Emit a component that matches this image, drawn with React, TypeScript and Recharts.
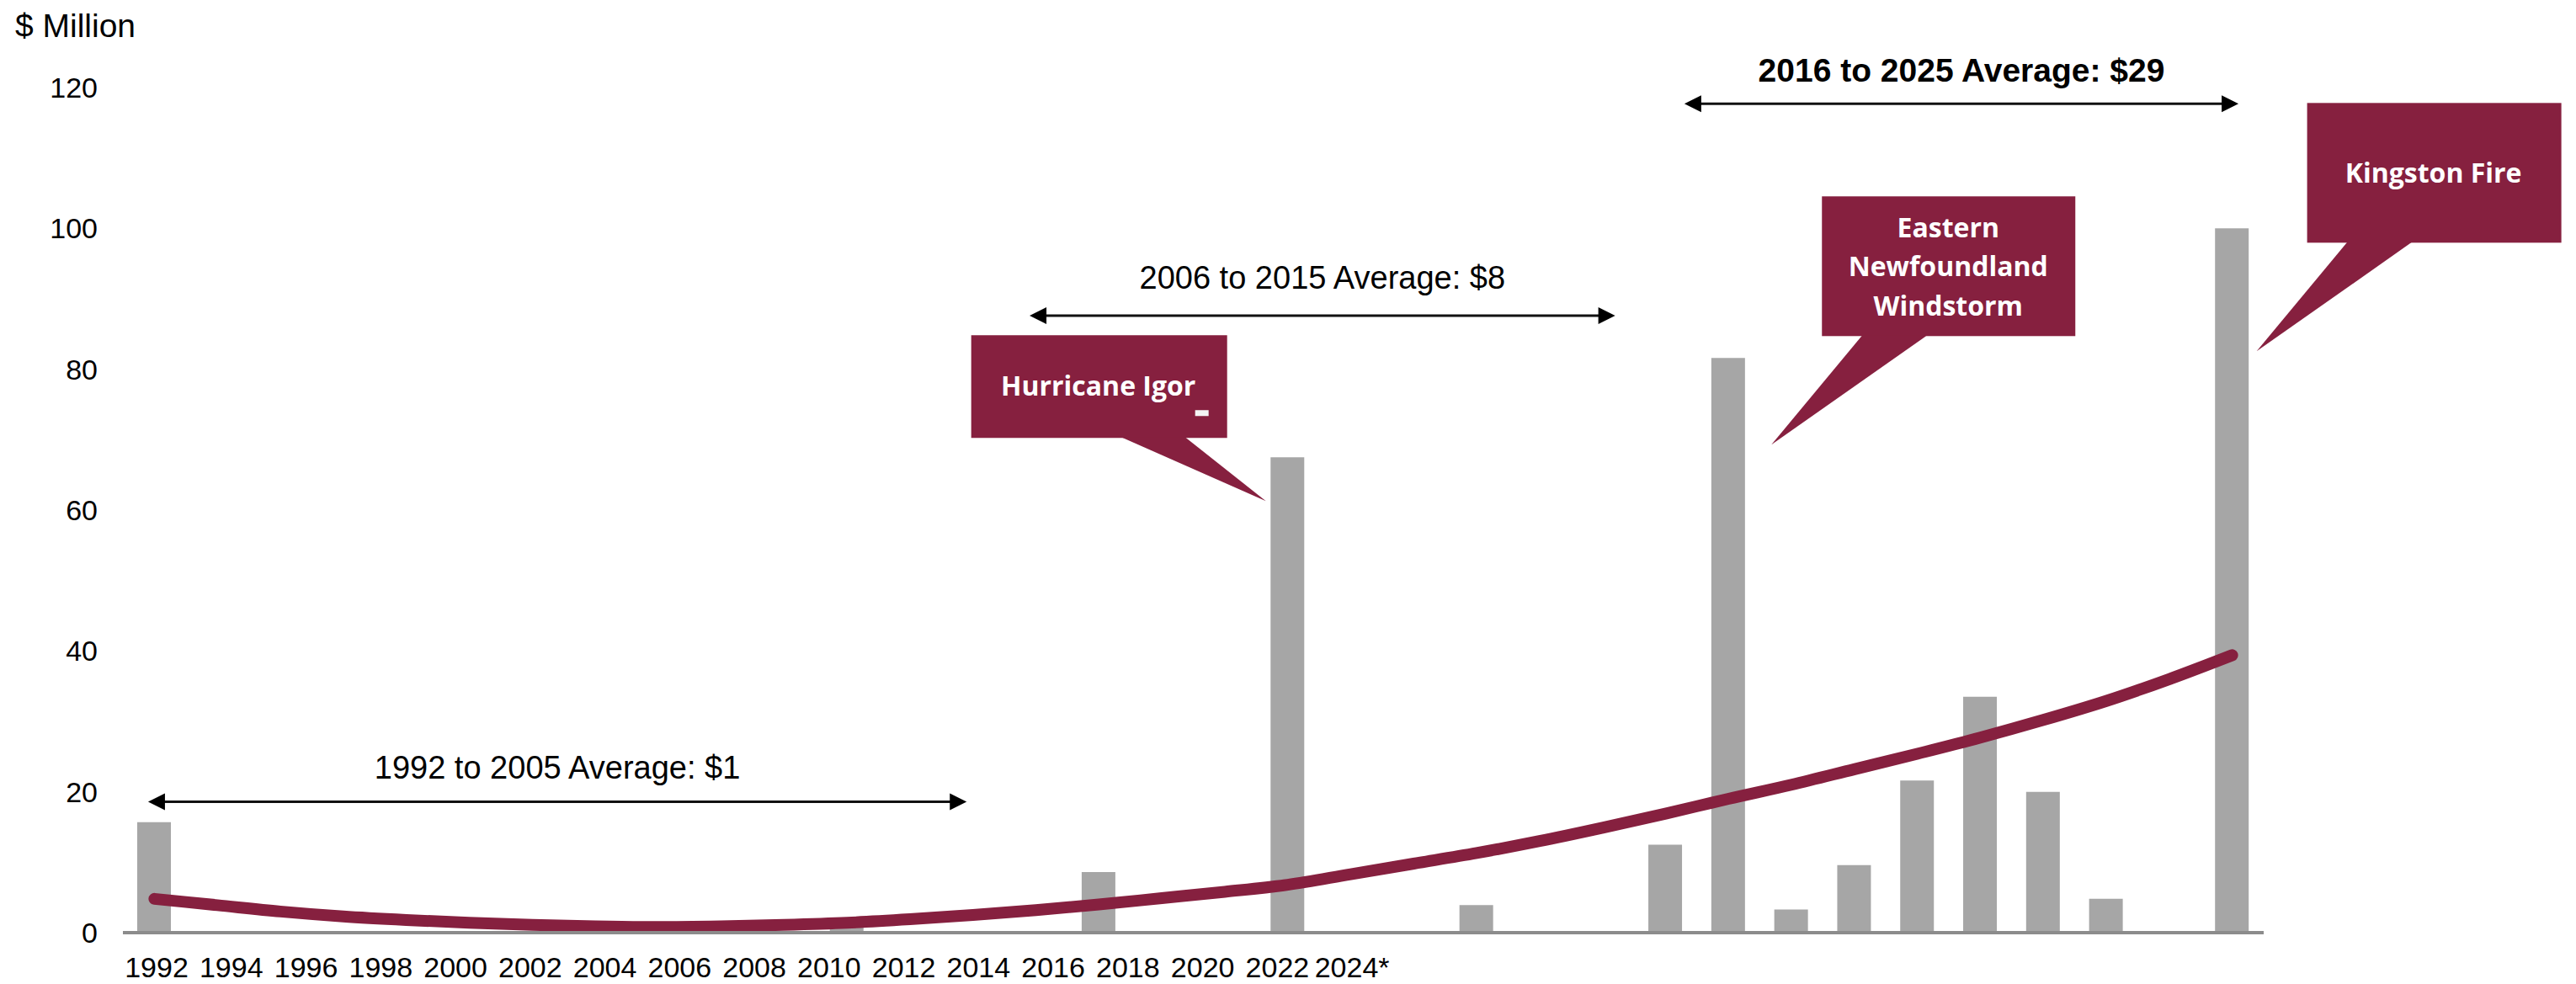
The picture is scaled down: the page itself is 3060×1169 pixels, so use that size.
import React from "react";
import { Bar, ComposedChart, Customized, Line, ReferenceDot, ReferenceLine, XAxis, YAxis } from "recharts";

const years = [
  1992, 1993, 1994, 1995, 1996, 1997, 1998, 1999, 2000, 2001, 2002, 2003, 2004, 2005, 2006, 2007, 2008,
  2009, 2010, 2011, 2012, 2013, 2014, 2015, 2016, 2017, 2018, 2019, 2020, 2021, 2022, 2023, 2024, 2025,
];

// insured losses, $ million
const losses = [
  15.7, 0, 0, 0, 0, 0, 0, 0, 0, 0, 0, 1.2, 0, 0, 0, 8.6, 0,
  0, 67.5, 0, 0, 3.9, 0, 0, 12.5, 81.6, 3.3, 9.6, 21.6, 33.5, 20.0, 4.8, 0, 100,
];

// trend line
const trend = [
  4.8, 3.9, 3.0, 2.3, 1.8, 1.4, 1.1, 0.9, 0.8, 0.9, 1.1, 1.4, 1.9, 2.5, 3.2, 4.0, 4.9,
  5.8, 6.8, 8.3, 9.8, 11.3, 13.0, 14.9, 16.9, 19.0, 21.0, 23.2, 25.4, 27.7, 30.2, 32.9, 36.0, 39.4,
];

const tickLabels = [
  "1992", "1994", "1996", "1998", "2000", "2002", "2004", "2006", "2008",
  "2010", "2012", "2014", "2016", "2018", "2020", "2022", "2024*",
];
const yTicks = [0, 20, 40, 60, 80, 100, 120];

const spanText = ["1992 to 2005 Average: $1", "2006 to 2015 Average: $8", "2016 to 2025 Average: $29"];
const spanStart = [1991.9, 2005.9, 2016.3];
const spanEnd = [2004.9, 2015.2, 2025.1];
const spanLevel = [18.6, 87.6, 117.7];

const eventYears = [2010, 2017, 2025];
const eventNames = [["Hurricane Igor"], ["Eastern", "Newfoundland", "Windstorm"], ["Kingston Fire"]];

const MAROON = "#86203f";
const BAR_GREY = "#a6a6a6";
const AXIS_GREY = "#8c8c8c";
const ARIAL = "'Liberation Sans', Arial, sans-serif";

const chartData = years.map((year, i) => ({ year, loss: losses[i], trend: trend[i] }));

// callout geometry relative to the bar top it points at
const calloutLayout = [
  { box: [-376, -145, 304, 122], tail: [-198, -122, -26, 52], textX: -225, baselines: [-73], dash: [-110, -56, 16, 7] },
  { box: [111, -192, 301, 166], tail: [159, 236, 51, 103], textX: 261, baselines: [-143, -97, -50] },
  { box: [89, -149, 302, 166], tail: [137, 214, 29, 146], textX: 239, baselines: [-54] },
];
const spanLabelOffset = [27, 32, 26];

function calloutShape(idx: number) {
  return (props: any) => {
    const { cx, cy } = props;
    const l = calloutLayout[idx];
    const [bx, by, bw, bh] = l.box;
    const [t0, t1, tx, ty] = l.tail;
    const baseY = cy + by + bh - 1;
    return (
      <g>
        <rect x={cx + bx} y={cy + by} width={bw} height={bh} fill={MAROON} />
        <polygon points={`${cx + t0},${baseY} ${cx + t1},${baseY} ${cx + tx},${cy + ty}`} fill={MAROON} />
        {l.dash && <rect x={cx + l.dash[0]} y={cy + l.dash[1]} width={l.dash[2]} height={l.dash[3]} fill="#f4f4f4" />}
        <text textAnchor="middle" fill="#ffffff" fontFamily="'Open Sans', sans-serif" fontWeight={700} fontSize={32}>
          {eventNames[idx].map((line, k) => (
            <tspan key={k} x={cx + l.textX} y={cy + l.baselines[k]}>
              {line}
            </tspan>
          ))}
        </text>
      </g>
    );
  };
}

function ArrowShape(props: any) {
  const { x1, y1, x2, y2 } = props;
  const head = 20;
  const half = 10;
  return (
    <g>
      <line x1={x1 + head - 2} y1={y1} x2={x2 - head + 2} y2={y2} stroke="#111" strokeWidth={3} />
      <polygon points={`${x1},${y1} ${x1 + head},${y1 - half} ${x1 + head},${y1 + half}`} fill="#000" />
      <polygon points={`${x2},${y2} ${x2 - head},${y2 - half} ${x2 - head},${y2 + half}`} fill="#000" />
    </g>
  );
}

export default function App() {
  return (
    <div style={{ width: 3060, height: 1169, background: "#fff" }}>
      <style>{"body{margin:0}"}</style>
      <ComposedChart width={3060} height={1169} data={chartData} margin={{ top: 104, right: 371, bottom: 0, left: 0 }}>
        <XAxis
          xAxisId="bars"
          dataKey="year"
          type="category"
          height={2}
          tick={false}
          tickLine={false}
          axisLine={{ stroke: AXIS_GREY, strokeWidth: 4 }}
        />
        {/* the year labels run on their own spacing, narrower than the bars */}
        <XAxis
          xAxisId="labels"
          type="number"
          dataKey={() => 8}
          domain={[-0.451, 28.2]}
          allowDataOverflow
          ticks={tickLabels.map((_, i) => i)}
          interval={0}
          tickFormatter={(v: number) => tickLabels[v] ?? ""}
          axisLine={false}
          tickLine={false}
          tickSize={0}
          tickMargin={27}
          height={59}
          tick={{ fill: "#000", fontSize: 34, fontFamily: ARIAL }}
        />
        <XAxis xAxisId="yr" type="number" dataKey="year" domain={[1991.5, 2025.5]} allowDataOverflow hide />
        <YAxis
          width={146}
          domain={[0, 120]}
          ticks={yTicks}
          interval={0}
          axisLine={false}
          tickLine={false}
          tickSize={0}
          tickMargin={30}
          tick={{ fill: "#000", fontSize: 34, fontFamily: ARIAL }}
        />
        <Bar xAxisId="bars" dataKey="loss" fill={BAR_GREY} barSize={40} isAnimationActive={false} />
        <Line
          xAxisId="bars"
          type="monotone"
          dataKey="trend"
          stroke={MAROON}
          strokeWidth={14}
          strokeLinecap="round"
          dot={false}
          activeDot={false}
          isAnimationActive={false}
        />
        {spanText.map((text, i) => (
          <ReferenceLine
            key={text}
            xAxisId="yr"
            segment={[
              { x: spanStart[i], y: spanLevel[i] },
              { x: spanEnd[i], y: spanLevel[i] },
            ]}
            ifOverflow="visible"
            shape={ArrowShape}
            label={{
              value: text,
              position: "top",
              offset: spanLabelOffset[i],
              fill: "#000",
              fontSize: i === 2 ? 39 : 38,
              fontWeight: i === 2 ? 700 : 400,
              fontFamily: ARIAL,
            }}
          />
        ))}
        {eventYears.map((year, i) => (
          <ReferenceDot
            key={year}
            xAxisId="bars"
            x={year}
            y={losses[years.indexOf(year)]}
            r={0}
            ifOverflow="visible"
            shape={calloutShape(i)}
          />
        ))}
        <Customized
          component={() => (
            <text x={18} y={44} fontSize={39} fontFamily={ARIAL} fill="#000">
              $ Million
            </text>
          )}
        />
      </ComposedChart>
    </div>
  );
}
